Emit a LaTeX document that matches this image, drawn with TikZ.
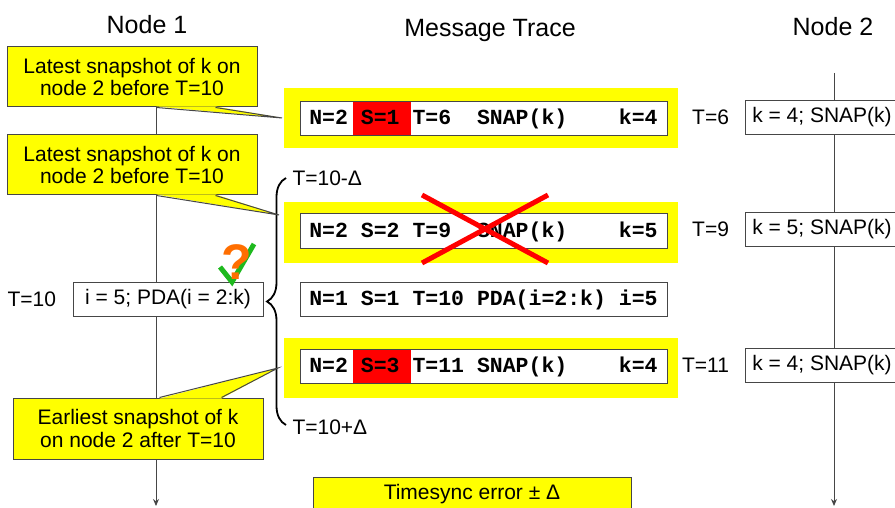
\documentclass[tikz,border=0pt]{standalone}
\usepackage{fontspec}
\setmainfont{Liberation Sans}
\setmonofont{Liberation Mono}
\usetikzlibrary{positioning,arrows.meta,decorations.pathreplacing,calc}
\definecolor{hlyellow}{RGB}{255,255,0}
\definecolor{fldred}{RGB}{255,0,0}
\definecolor{okgreen}{RGB}{30,185,30}
\definecolor{qorange}{RGB}{255,110,0}
\definecolor{edgegray}{RGB}{70,70,70}
% red field behind the S=.. part of a message
\newcommand\redfld[1]{\makebox[0pt][l]{\hspace{-7.5pt}\textcolor{fldred}{\rule[-10.5pt]{58pt}{33pt}}}#1}

\begin{document}
\begin{tikzpicture}[x=1pt,y=-1pt,
    txt/.style={font=\fontsize{21}{22.5}\selectfont},
    title/.style={font=\fontsize{25}{28}\selectfont},
    lifeline/.style={edgegray,line width=1pt,-{Stealth[length=7pt,width=6pt]}},
    callout/.style={txt,fill=hlyellow,draw=edgegray,line width=1pt,minimum width=250pt,minimum height=60pt,align=center,inner sep=0pt},
    pointer/.style={fill=hlyellow},
    hilite/.style={fill=hlyellow,minimum width=394pt,minimum height=60pt,inner sep=0pt},
    msg/.style={fill=white,draw=edgegray,line width=1pt,minimum width=367pt,minimum height=34pt,inner sep=0pt,text height=12pt,text depth=0pt,font=\fontsize{21.5}{24}\ttfamily\bfseries},
    action/.style={txt,fill=white,draw=edgegray,line width=1pt,minimum height=34pt,inner sep=0pt},
    tlabel/.style={txt}]
    \clip (0,0) rectangle (895,508);
    % titles
    \node[title] (n1) at (147,25) {Node 1};
    \node[title] (trace) at (490,30) {Message Trace};
    \node[title] (n2) at (833,27) {Node 2};
    % lifelines
    \coordinate (n1top) at (156,60);
    \coordinate (n1end) at (156,506);
    \coordinate (n2top) at (834,73);
    \coordinate (n2end) at (834,506);
    \draw[lifeline] (n1top) -- (n1end);
    \draw[lifeline] (n2top) -- (n2end);
    % message trace
    \node[hilite] (h1) at (480.5,118) {};
    \node[msg] (m1) at (483.5,119) {N=2 \redfld{S=1} T=6~~SNAP(k)~~~~k=4};
    \node[hilite] (h2) at (480.5,232.5) {};
    \node[msg] (m2) at (483.5,231) {N=2 S=2 T=9~~SNAP(k)~~~~k=5};
    \node[msg] (m3) at (483.5,299) {N=1 S=1 T=10 PDA(i=2:k) i=5};
    \node[hilite] (h4) at (480.5,368) {};
    \node[msg] (m4) at (483.5,366.5) {N=2 \redfld{S=3} T=11 SNAP(k)~~~~k=4};
    % crossed out
    \draw[fldred,line width=5pt] (422,195) -- (548,263) (548,195) -- (422,263);
    % node 1
    \node[action,minimum width=190pt] (a1) at (168,299) {i = 5; PDA(i = 2:k)};
    \node[tlabel,left=13pt of a1] (t10) {T=10};
    \draw[okgreen,line width=5pt] (220,267) -- (232,282) -- (254,244);
    \node[text=qorange,font=\fontsize{50}{50}\selectfont\bfseries] (q) at (237,262) {?};
    % node 2
    \node[action,minimum width=154pt] (b1) at (822,117.5) {k = 4; SNAP(k)};
    \node[tlabel,left=12pt of b1] (t6) {T=6};
    \node[action,minimum width=154pt] (b2) at (822,229.5) {k = 5; SNAP(k)};
    \node[tlabel,left=12pt of b2] (t9) {T=9};
    \node[action,minimum width=154pt] (b3) at (822,365.5) {k = 4; SNAP(k)};
    \node[tlabel,left=12pt of b3] (t11) {T=11};
    % window T=10 +/- delta
    \coordinate (btop) at (286,178);
    \coordinate (bbot) at (286,425);
    \draw[decorate,decoration={brace,amplitude=19pt},line width=1.8pt] (bbot) -- (btop);
    \node[tlabel,anchor=west] (tminus) at (289,178) {T=10-Δ};
    \node[tlabel,anchor=west] (tplus) at (289,427) {T=10+Δ};
    % callouts
    \node[callout] (c1) at (132,77) {Latest snapshot of k on\\node 2 before T=10};
    \coordinate (c1tip) at (282,118);
    \fill[pointer] ($(c1.south west)+(150,-1)$) -- (c1tip) -- ($(c1.south west)+(209,-1)$) -- cycle;
    \draw[edgegray,line width=1pt] ($(c1.south west)+(150,0)$) -- (c1tip) -- ($(c1.south west)+(209,0)$);
    \node[callout] (c2) at (132,165) {Latest snapshot of k on\\node 2 before T=10};
    \coordinate (c2tip) at (279,215);
    \fill[pointer] ($(c2.south west)+(150,-1)$) -- (c2tip) -- ($(c2.south west)+(209,-1)$) -- cycle;
    \draw[edgegray,line width=1pt] ($(c2.south west)+(150,0)$) -- (c2tip) -- ($(c2.south west)+(209,0)$);
    \node[callout,minimum height=61pt] (c3) at (138,428.5) {Earliest snapshot of k\\on node 2 after T=10};
    \coordinate (c3tip) at (278,368);
    \fill[pointer] ($(c3.north west)+(147,1)$) -- (c3tip) -- ($(c3.north west)+(209,1)$) -- cycle;
    \draw[edgegray,line width=1pt] ($(c3.north west)+(147,0)$) -- (c3tip) -- ($(c3.north west)+(209,0)$);
    % timesync
    \node[txt,fill=hlyellow,draw=edgegray,line width=1pt,minimum width=318pt,minimum height=34pt] (tsync) at (472,494) {Timesync error ± Δ};
\end{tikzpicture}
\end{document}
